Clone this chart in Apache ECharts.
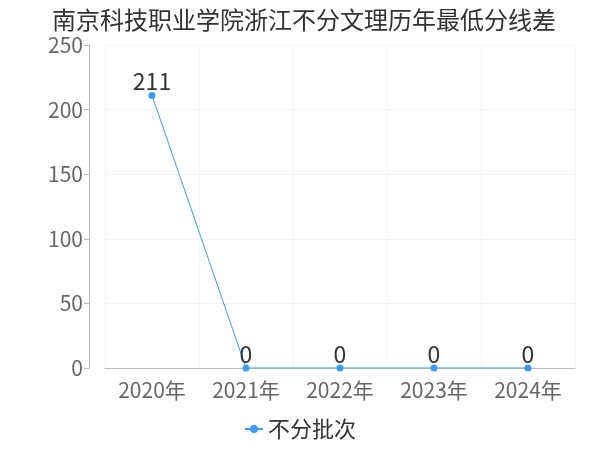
<!DOCTYPE html>
<html lang="zh-CN">
<head>
  <meta charset="UTF-8" />
  <title>南京科技职业学院浙江不分文理历年最低分线差</title>
  <script src="https://cdn.jsdelivr.net/npm/echarts@6/dist/echarts.min.js"></script>
  <style>
    body { margin: 0; padding: 0; background: #fff; }
    #chart { width: 600px; height: 450px; }
  </style>
</head>
<body>
  <div id="chart"></div>
  <script>
    const years = ["2020年", "2021年", "2022年", "2023年", "2024年"];
    const seriesName = "不分批次";
    const diffValues = [211, 0, 0, 0, 0];
    const yTicks = { min: 0, max: 250, interval: 50 };

    const font = "'Noto Sans CJK SC', 'Noto Sans', sans-serif";
    const chart = echarts.init(document.getElementById("chart"));

    chart.setOption({
      textStyle: { fontFamily: font },
      title: {
        text: "南京科技职业学院浙江不分文理历年最低分线差",
        left: 47,
        top: 3,
        textStyle: { fontSize: 24, fontWeight: "normal", color: "#333", fontFamily: font }
      },
      legend: {
        bottom: 5,
        left: "center",
        itemWidth: 18,
        itemHeight: 10,
        itemGap: 4,
        textStyle: { fontSize: 22, color: "#333", fontFamily: font },
        data: [seriesName]
      },
      grid: {
        left: 105,
        right: 25,
        top: 45,
        bottom: 82
      },
      xAxis: {
        type: "category",
        data: years,
        boundaryGap: true,
        offset: 3,
        axisLine: { lineStyle: { color: "#bbb" } },
        axisTick: { alignWithLabel: true, lineStyle: { color: "#bbb" } },
        axisLabel: { fontSize: 21, color: "#666", margin: 9, fontFamily: font },
        splitLine: { show: true, lineStyle: { color: "#f4f4f4" } }
      },
      yAxis: {
        type: "value",
        min: yTicks.min,
        max: yTicks.max,
        interval: yTicks.interval,
        offset: 16,
        axisLine: { show: true, lineStyle: { color: "#bbb" } },
        axisTick: { show: true, lineStyle: { color: "#bbb" } },
        axisLabel: { fontSize: 21, color: "#666", margin: 6, fontFamily: font },
        splitLine: { show: true, lineStyle: { color: "#f4f4f4" } }
      },
      series: [{
        name: seriesName,
        type: "line",
        data: diffValues,
        symbol: "circle",
        symbolSize: 7,
        itemStyle: { color: "#3a9cf7" },
        lineStyle: { color: "#3a9cf7", width: 1 },
        label: {
          show: true,
          position: "top",
          distance: -1,
          fontSize: 23,
          color: "#333",
          fontFamily: font
        }
      }]
    });
  </script>
</body>
</html>
